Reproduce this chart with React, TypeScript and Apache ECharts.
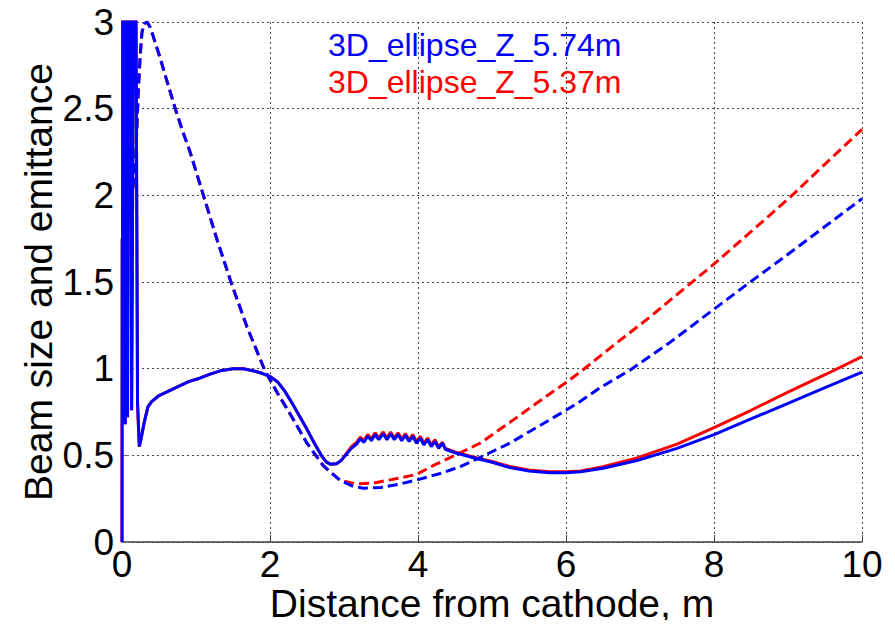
import React, { useEffect, useRef } from "react";
import * as echarts from "echarts";

// Distance from cathode (m) vs. value, as [x, y] pairs.
const beamSize574: [number, number][] = [
  [0, 0], [0.003, 1.75], [0.006, 0.9], [0.012, 3.5], [0.022, 0.7], [0.032, 3.5],
  [0.045, 0.68], [0.058, 3.5], [0.075, 0.72], [0.09, 3.5], [0.105, 2.1], [0.115, 3.5],
  [0.13, 0.76], [0.16, 3.5], [0.185, 3.5], [0.21, 0.8], [0.234, 0.55], [0.26, 0.6],
  [0.3, 0.69], [0.35, 0.78], [0.4, 0.81], [0.5, 0.845], [0.7, 0.885], [0.9, 0.925],
  [1.05, 0.945], [1.2, 0.97], [1.35, 0.99], [1.5, 1.0], [1.64, 1.0], [1.8, 0.985],
  [1.9, 0.972], [2.0, 0.955], [2.1, 0.925], [2.2, 0.87], [2.3, 0.8], [2.4, 0.725],
  [2.5, 0.65], [2.6, 0.57], [2.7, 0.495], [2.76, 0.462], [2.82, 0.448], [2.9, 0.452],
  [2.96, 0.47], [3.04, 0.51], [3.1, 0.54], [3.17, 0.565], [3.22, 0.595], [3.27, 0.575],
  [3.32, 0.61], [3.37, 0.585], [3.42, 0.62], [3.47, 0.59], [3.53, 0.625], [3.58, 0.59],
  [3.63, 0.625], [3.68, 0.59], [3.73, 0.62], [3.78, 0.585], [3.83, 0.615], [3.88, 0.58],
  [3.93, 0.61], [3.98, 0.57], [4.03, 0.6], [4.08, 0.56], [4.13, 0.59], [4.18, 0.55],
  [4.23, 0.58], [4.28, 0.54], [4.33, 0.57], [4.37, 0.535], [4.5, 0.515], [4.8, 0.48],
  [5.0, 0.46], [5.24, 0.43], [5.5, 0.41], [5.78, 0.4], [6.0, 0.4], [6.2, 0.405],
  [6.5, 0.425], [6.96, 0.47], [7.5, 0.54], [8.0, 0.62], [8.5, 0.71], [9.0, 0.8],
  [9.5, 0.89], [10, 0.98],
];

const beamSize537: [number, number][] = [
  [0, 0], [0.003, 1.75], [0.006, 0.9], [0.012, 3.5], [0.022, 0.7], [0.032, 3.5],
  [0.045, 0.68], [0.058, 3.5], [0.075, 0.72], [0.09, 3.5], [0.105, 2.1], [0.115, 3.5],
  [0.13, 0.76], [0.16, 3.5], [0.185, 3.5], [0.21, 0.8], [0.234, 0.55], [0.26, 0.6],
  [0.3, 0.69], [0.35, 0.78], [0.4, 0.81], [0.5, 0.845], [0.7, 0.885], [0.9, 0.925],
  [1.05, 0.945], [1.2, 0.97], [1.35, 0.99], [1.5, 1.0], [1.64, 1.0], [1.8, 0.985],
  [1.9, 0.972], [2.0, 0.955], [2.1, 0.925], [2.2, 0.87], [2.3, 0.8], [2.4, 0.725],
  [2.5, 0.65], [2.6, 0.57], [2.7, 0.495], [2.76, 0.462], [2.82, 0.448], [2.9, 0.452],
  [2.96, 0.47], [3.04, 0.515], [3.1, 0.55], [3.17, 0.575], [3.22, 0.605], [3.27, 0.585],
  [3.32, 0.62], [3.37, 0.595], [3.42, 0.63], [3.47, 0.6], [3.53, 0.635], [3.58, 0.6],
  [3.63, 0.635], [3.68, 0.6], [3.73, 0.63], [3.78, 0.595], [3.83, 0.625], [3.88, 0.59],
  [3.93, 0.62], [3.98, 0.58], [4.03, 0.61], [4.08, 0.57], [4.13, 0.6], [4.18, 0.56],
  [4.23, 0.59], [4.28, 0.55], [4.33, 0.575], [4.37, 0.54], [4.5, 0.52], [4.8, 0.485],
  [5.0, 0.465], [5.24, 0.435], [5.5, 0.415], [5.78, 0.405], [6.0, 0.405], [6.2, 0.41],
  [6.5, 0.435], [6.96, 0.485], [7.5, 0.565], [8.0, 0.66], [8.5, 0.76], [9.0, 0.865],
  [9.5, 0.965], [10, 1.07],
];

const emittance574: [number, number][] = [
  [0.01, 1.7], [0.08, 1.86], [0.15, 2.05], [0.185, 2.21], [0.22, 2.6], [0.245, 2.8],
  [0.27, 2.94], [0.3, 2.99], [0.34, 3.0], [0.38, 2.97], [0.42, 2.92], [0.51, 2.8],
  [0.6, 2.67], [0.72, 2.5], [0.82, 2.37], [0.92, 2.25], [1.1, 2.0], [1.28, 1.75],
  [1.48, 1.49], [1.69, 1.24], [1.93, 0.99], [2.1, 0.86], [2.27, 0.74], [2.5, 0.57],
  [2.72, 0.44], [2.95, 0.355], [3.1, 0.325], [3.26, 0.31], [3.5, 0.315], [3.76, 0.335],
  [4.0, 0.36], [4.34, 0.4], [4.6, 0.44], [4.8, 0.48], [5.24, 0.57], [5.6, 0.66],
  [6.0, 0.76], [6.19, 0.81], [6.46, 0.89], [6.86, 0.99], [7.4, 1.15], [7.99, 1.34],
  [8.49, 1.5], [9.0, 1.66], [9.5, 1.82], [10, 1.98],
];

const emittance537: [number, number][] = [
  [0.01, 1.7], [0.08, 1.86], [0.15, 2.05], [0.185, 2.21], [0.22, 2.6], [0.245, 2.8],
  [0.27, 2.94], [0.3, 2.99], [0.34, 3.0], [0.38, 2.97], [0.42, 2.92], [0.51, 2.8],
  [0.6, 2.67], [0.72, 2.5], [0.82, 2.37], [0.92, 2.25], [1.1, 2.0], [1.28, 1.75],
  [1.48, 1.49], [1.69, 1.24], [1.93, 0.99], [2.1, 0.86], [2.27, 0.74], [2.5, 0.57],
  [2.72, 0.44], [2.95, 0.355], [3.17, 0.335], [3.4, 0.34], [3.76, 0.37], [3.98, 0.39],
  [4.2, 0.44], [4.5, 0.5], [4.84, 0.57], [5.24, 0.69], [5.6, 0.8], [6.0, 0.92],
  [6.19, 0.98], [6.6, 1.12], [7.14, 1.3], [7.45, 1.41], [7.99, 1.6], [8.5, 1.79],
  [9.03, 1.99], [9.5, 2.18], [10, 2.38],
];

const runNames = ["3D_ellipse_Z_5.74m", "3D_ellipse_Z_5.37m"];
const runColors = ["#0000ff", "#ff0000"];

const FONT = "'Liberation Sans', Arial, sans-serif";

export default function App() {
  const ref = useRef<HTMLDivElement>(null);

  useEffect(() => {
    if (!ref.current) return;
    const chart = echarts.init(ref.current, undefined, { renderer: "svg" });

    const lineSeries = (
      name: string,
      color: string,
      data: [number, number][],
      dashed: boolean
    ) => ({
      name,
      type: "line",
      data,
      showSymbol: false,
      symbol: "none",
      clip: true,
      lineStyle: { color, width: 3, type: dashed ? [10, 5] : "solid" },
      itemStyle: { color },
      z: name === runNames[0] ? 3 : 2,
    });

    chart.setOption({
      animation: false,
      backgroundColor: "#ffffff",
      grid: { left: 122, right: 33, top: 22, bottom: 80 },
      legend: {
        orient: "vertical",
        left: 318,
        top: 24,
        icon: "none",
        itemWidth: 0,
        itemHeight: 0,
        itemGap: 5,
        textStyle: { fontSize: 32, fontFamily: FONT },
        data: runNames.map((n, i) => ({ name: n, textStyle: { color: runColors[i] } })),
      },
      xAxis: {
        type: "value",
        min: 0,
        max: 10,
        interval: 2,
        name: "Distance from cathode, m",
        nameLocation: "middle",
        nameGap: 42,
        nameMoveOverlap: false,
        nameTextStyle: {
          fontSize: 39,
          lineHeight: 39,
          fontFamily: FONT,
          color: "#000",
          verticalAlign: "top",
        },
        axisLine: { show: true, onZero: false, lineStyle: { color: "#404040", width: 1.5 } },
        axisTick: { show: true, inside: true, length: 7, lineStyle: { color: "#404040" } },
        axisLabel: { fontSize: 37, lineHeight: 37, fontFamily: FONT, color: "#000", margin: 4 },
        splitLine: { show: true, lineStyle: { color: "#444", type: [2, 3], width: 1 } },
      },
      yAxis: {
        type: "value",
        min: 0,
        max: 3,
        interval: 0.5,
        name: "Beam size and emittance",
        nameLocation: "middle",
        nameGap: 64,
        nameMoveOverlap: false,
        nameTextStyle: { fontSize: 39, lineHeight: 39, fontFamily: FONT, color: "#000" },
        axisLine: { show: true, onZero: false, lineStyle: { color: "#707070", width: 1.5 } },
        axisTick: { show: true, inside: true, length: 7, lineStyle: { color: "#707070" } },
        axisLabel: { fontSize: 37, lineHeight: 37, fontFamily: FONT, color: "#000", margin: 8 },
        splitLine: { show: true, lineStyle: { color: "#444", type: [2, 3], width: 1 } },
      },
      series: [
        lineSeries(runNames[1], runColors[1], beamSize537, false),
        lineSeries(runNames[1], runColors[1], emittance537, true),
        lineSeries(runNames[0], runColors[0], beamSize574, false),
        lineSeries(runNames[0], runColors[0], emittance574, true),
      ],
    });

    return () => chart.dispose();
  }, []);

  return <div ref={ref} style={{ width: 895, height: 628, margin: -8 }} />;
}
